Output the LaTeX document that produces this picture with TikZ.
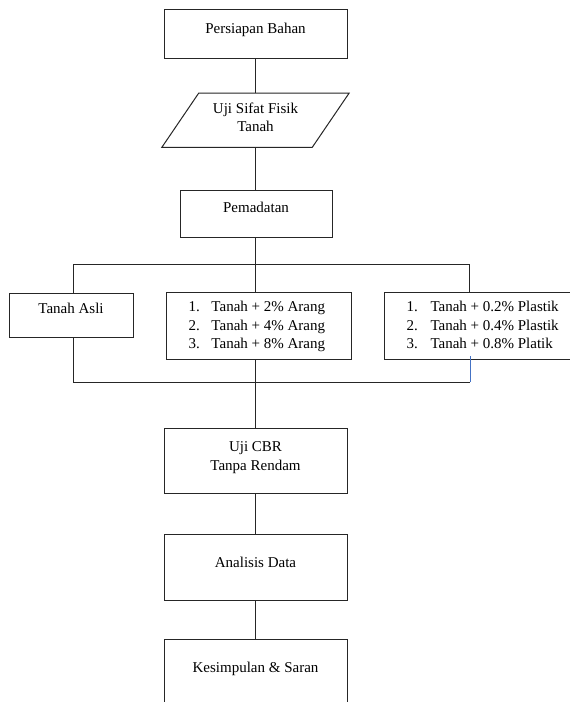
\documentclass[tikz,border=0pt]{standalone}
\usepackage{fontspec}
\setmainfont{Liberation Serif}
\usetikzlibrary{calc}
\begin{document}
\begin{tikzpicture}[x=1pt,y=-1pt,
  every node/.style={font=\fontsize{15}{18.5}\selectfont},
  box/.style={draw=black!85,line width=1pt,inner ysep=0pt,inner xsep=0pt},
  listbox/.style={box,anchor=north west,inner xsep=22pt},
  conn/.style={draw=black!85,line width=1pt},
  blueline/.style={draw={rgb,255:red,68;green,114;blue,196},line width=1pt}]
\useasboundingbox[fill=white] (0,0) rectangle (570,702);

\node[box,anchor=north,minimum width=183pt,text height=24pt,text depth=25pt] (persiapan) at (255.5,9) {Persiapan Bahan};

\node[inner sep=0pt,anchor=north,minimum width=150pt,text height=20pt,text depth=34pt] (uji) at (255.5,93)
  {\begin{tabular}[t]{@{}c@{}}Uji Sifat Fisik\\Tanah\end{tabular}};
\draw[conn] ($(uji.north west)+(18.5,0)$) -- ($(uji.north east)+(18.5,0)$)
  -- ($(uji.south east)+(-18.5,0)$) -- ($(uji.south west)+(-18.5,0)$) -- cycle;

\node[box,anchor=north,minimum width=152pt,text height=22pt,text depth=25pt] (pemadatan) at (256,190) {Pemadatan};

\node[box,anchor=north,minimum width=124pt,text height=20pt,text depth=24pt] (asli) at (71,293) {Tanah Asli};

\node[listbox,text height=19pt,text depth=48pt] (arang) at (166,292)
  {\begin{tabular}[t]{@{}p{23pt}@{}p{118pt}@{}}1.&\mbox{Tanah + 2\% Arang}\\2.&\mbox{Tanah + 4\% Arang}\\3.&\mbox{Tanah + 8\% Arang}\end{tabular}};

\node[listbox,text height=19pt,text depth=48pt] (plastik) at (384,292)
  {\begin{tabular}[t]{@{}p{24pt}@{}p{140pt}@{}}1.&\mbox{Tanah + 0.2\% Plastik}\\2.&\mbox{Tanah + 0.4\% Plastik}\\3.&\mbox{Tanah + 0.8\% Platik}\end{tabular}};

\node[box,anchor=north,minimum width=183pt,text height=23pt,text depth=42pt] (cbr) at (255.5,428)
  {\begin{tabular}[t]{@{}c@{}}Uji CBR\\Tanpa Rendam\end{tabular}};

\node[box,anchor=north,minimum width=183pt,text height=33pt,text depth=33pt] (analisis) at (255.5,534) {Analisis Data};

\node[box,anchor=north,minimum width=183pt,text height=33pt,text depth=33pt] (kesimpulan) at (255.5,639) {Kesimpulan \& Saran};

\coordinate (b1) at (73,264);
\coordinate (b2) at (469,264);
\coordinate (c1) at (73,382);
\coordinate (c2) at (470,382);

\draw[conn] (persiapan.south) -- (uji.north);
\draw[conn] (uji.south) -- (uji.south |- pemadatan.north);
\draw[conn] (pemadatan.south -| uji.south) -- (uji.south |- b1);
\draw[conn] (b1) -- (b2);
\draw[conn] (b1) -- (b1 |- asli.north);
\draw[conn] (uji.south |- b1) -- (uji.south |- arang.north);
\draw[conn] (b2) -- (b2 |- plastik.north);
\draw[conn] (c1 |- asli.south) -- (c1) -- (c2);
\draw[blueline] (c2) -- ([yshift=4pt]c2 |- plastik.south);
\draw[conn] (cbr.north |- arang.south) -- (cbr.north);
\draw[conn] (cbr.south) -- (analisis.north);
\draw[conn] (analisis.south) -- (kesimpulan.north);
\end{tikzpicture}
\end{document}
